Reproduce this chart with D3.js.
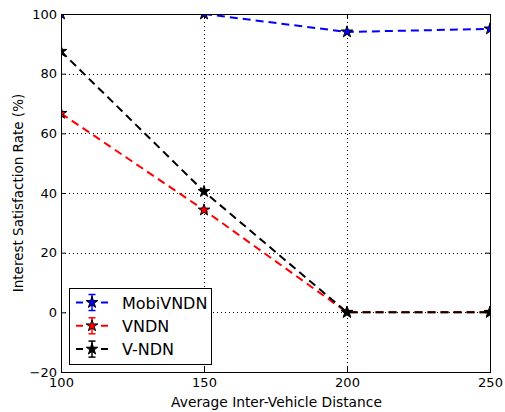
<!DOCTYPE html>
<html>
<head>
<meta charset="utf-8">
<script src="https://cdn.jsdelivr.net/npm/d3@7"></script>
<style>
  body { margin: 0; background: #fff; }
  text { font-family: "DejaVu Sans", sans-serif; }
</style>
</head>
<body>
<svg width="505" height="412"></svg>
<script>
var distances = [100, 150, 200, 250];
var mobiVndn = [100, 100, 94, 95];
var vndn = [66.7, 34.3, 0, 0];
var vNdn = [87.5, 40.5, 0, 0];
var seriesNames = ['MobiVNDN', 'VNDN', 'V-NDN'];
var seriesColors = ['#0000ff', '#ff0000', '#000000'];
var xTicks = [100, 150, 200, 250];
var yTicks = [-20, 0, 20, 40, 60, 80, 100];

var series = [mobiVndn, vndn, vNdn].map(function(vals, i) {
  return { name: seriesNames[i], color: seriesColors[i], values: vals };
});

var svg = d3.select('svg');
var plotLeft = 61, plotRight = 490, plotTop = 14, plotBottom = 372;

var x = d3.scaleLinear().domain([100, 250]).range([plotLeft, plotRight]);
var y = d3.scaleLinear().domain([-20, 100]).range([plotBottom, plotTop]);

svg.append('clipPath').attr('id', 'plotclip')
  .append('rect')
  .attr('x', plotLeft).attr('y', plotTop)
  .attr('width', plotRight - plotLeft + 1).attr('height', plotBottom - plotTop + 1);

// grid
var grid = svg.append('g');
grid.selectAll('.gx').data(xTicks).enter().append('line')
  .attr('x1', function(d) { return Math.round(x(d)) + 0.5; })
  .attr('x2', function(d) { return Math.round(x(d)) + 0.5; })
  .attr('y1', plotTop).attr('y2', plotBottom)
  .attr('stroke', '#000').attr('stroke-width', 1).attr('stroke-dasharray', '1,3');
grid.selectAll('.gy').data(yTicks).enter().append('line')
  .attr('y1', function(d) { return Math.round(y(d)) + 0.5; })
  .attr('y2', function(d) { return Math.round(y(d)) + 0.5; })
  .attr('x1', plotLeft).attr('x2', plotRight)
  .attr('stroke', '#000').attr('stroke-width', 1).attr('stroke-dasharray', '1,3');

// axes with inward ticks
var xAxis = d3.axisBottom(x).tickValues(xTicks).tickSize(-5).tickPadding(6).tickSizeOuter(0);
var xAxisTop = d3.axisTop(x).tickValues(xTicks).tickSize(-5).tickFormat('').tickSizeOuter(0);
var yAxis = d3.axisLeft(y).tickValues(yTicks).tickSize(-5).tickPadding(4).tickSizeOuter(0)
  .tickFormat(function(d) { return d < 0 ? '\u2212' + Math.abs(d) : d; });
var yAxisRight = d3.axisRight(y).tickValues(yTicks).tickSize(-5).tickFormat('').tickSizeOuter(0);

function styleAxis(g) {
  g.select('.domain').remove();
  g.selectAll('text').attr('font-size', 13).attr('fill', '#000')
    .style('font-family', '"DejaVu Sans", sans-serif');
  g.selectAll('line').attr('stroke', '#000');
}

svg.append('g').attr('transform', 'translate(0,' + plotBottom + ')').call(xAxis).call(styleAxis);
svg.append('g').attr('transform', 'translate(0,' + plotTop + ')').call(xAxisTop).call(styleAxis);
svg.append('g').attr('transform', 'translate(' + plotLeft + ',0)').call(yAxis).call(styleAxis);
svg.append('g').attr('transform', 'translate(' + plotRight + ',0)').call(yAxisRight).call(styleAxis);

// lines
var line = d3.line()
  .x(function(d, i) { return x(distances[i]); })
  .y(function(d) { return y(d); });

var star = d3.symbol().type(d3.symbolStar).size(42);

var plot = svg.append('g').attr('clip-path', 'url(#plotclip)');
series.forEach(function(s) {
  plot.append('path')
    .attr('d', line(s.values))
    .attr('fill', 'none')
    .attr('stroke', s.color)
    .attr('stroke-width', 2)
    .attr('stroke-dasharray', '8,5');
  plot.selectAll(null).data(s.values).enter().append('path')
    .attr('d', star)
    .attr('transform', function(d, i) { return 'translate(' + x(distances[i]) + ',' + y(d) + ')'; })
    .attr('fill', s.color)
    .attr('stroke', '#000')
    .attr('stroke-width', 1);
});

// frame
svg.append('rect')
  .attr('x', plotLeft + 0.5).attr('y', plotTop + 0.5)
  .attr('width', plotRight - plotLeft).attr('height', plotBottom - plotTop)
  .attr('fill', 'none').attr('stroke', '#000').attr('stroke-width', 1);

// axis labels
svg.append('text')
  .attr('x', 276.5).attr('y', 407)
  .attr('text-anchor', 'middle').attr('font-size', 13.8)
  .text('Average Inter-Vehicle Distance');
svg.append('text')
  .attr('transform', 'translate(23,' + (plotTop + plotBottom) / 2 + ') rotate(-90)')
  .attr('text-anchor', 'middle').attr('font-size', 13.5)
  .text('Interest Satisfaction Rate (%)');

// legend
var legend = svg.append('g').attr('transform', 'translate(69.5,288.5)');
legend.append('rect')
  .attr('width', 142).attr('height', 76)
  .attr('fill', '#fff').attr('stroke', '#000').attr('stroke-width', 1);
var entry = legend.selectAll('.entry').data(series).enter().append('g')
  .attr('transform', function(d, i) { return 'translate(0,' + (14 + i * 23.3) + ')'; });
entry.append('line')
  .attr('x1', 6.5).attr('x2', 38.5).attr('y1', 0).attr('y2', 0)
  .attr('stroke', function(d) { return d.color; })
  .attr('stroke-width', 2).attr('stroke-dasharray', '7,18');
entry.append('line')
  .attr('x1', 22.5).attr('x2', 22.5).attr('y1', -8).attr('y2', 8)
  .attr('stroke', function(d) { return d.color; }).attr('stroke-width', 1.5);
entry.selectAll('.cap').data(function(d) { return [-8, 8].map(function(v) { return { v: v, c: d.color }; }); })
  .enter().append('line')
  .attr('x1', 19).attr('x2', 26)
  .attr('y1', function(d) { return d.v; }).attr('y2', function(d) { return d.v; })
  .attr('stroke', function(d) { return d.c; }).attr('stroke-width', 1.5);
entry.append('path')
  .attr('d', star)
  .attr('transform', 'translate(22.5,0)')
  .attr('fill', function(d) { return d.color; })
  .attr('stroke', '#000').attr('stroke-width', 1);
entry.append('text')
  .attr('x', 52.5).attr('y', 6)
  .attr('font-size', 16)
  .text(function(d) { return d.name; });
</script>
</body>
</html>
